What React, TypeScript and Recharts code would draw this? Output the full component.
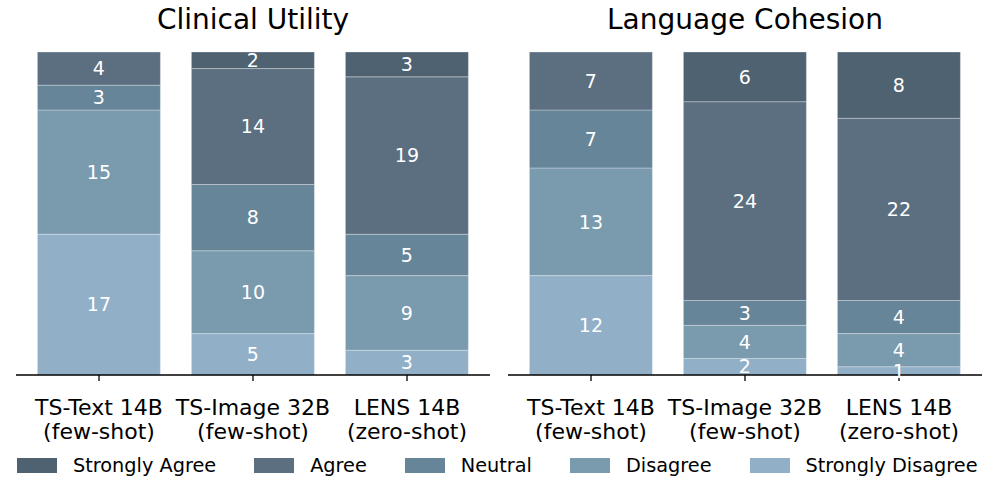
import { Bar, BarChart, LabelList, XAxis, YAxis } from 'recharts';

const models = ['TS-Text 14B|(few-shot)', 'TS-Image 32B|(few-shot)', 'LENS 14B|(zero-shot)'];
const levels = ['Strongly Agree', 'Agree', 'Neutral', 'Disagree', 'Strongly Disagree'];
const colors = ['#4f6272', '#5b6f80', '#668599', '#7a9aae', '#91b0c7'];

// Clinical Utility counts per model
const cuStronglyDisagree = [17, 5, 3];
const cuDisagree = [15, 10, 9];
const cuNeutral = [3, 8, 5];
const cuAgree = [4, 14, 19];
const cuStronglyAgree = [0, 2, 3];

// Language Cohesion counts per model
const lcStronglyDisagree = [12, 2, 1];
const lcDisagree = [13, 4, 4];
const lcNeutral = [7, 3, 4];
const lcAgree = [7, 24, 22];
const lcStronglyAgree = [0, 6, 8];

const buildRows = (sd: number[], d: number[], n: number[], a: number[], sa: number[]) =>
  models.map((m, i) => ({
    model: m,
    'Strongly Disagree': sd[i],
    Disagree: d[i],
    Neutral: n[i],
    Agree: a[i],
    'Strongly Agree': sa[i],
  }));

const clinicalData = buildRows(cuStronglyDisagree, cuDisagree, cuNeutral, cuAgree, cuStronglyAgree);
const cohesionData = buildRows(lcStronglyDisagree, lcDisagree, lcNeutral, lcAgree, lcStronglyAgree);

const font = '"DejaVu Sans", sans-serif';

const ModelTick = (props: any) => {
  const { x, y, payload } = props;
  const [l1, l2] = String(payload.value).split('|');
  return (
    <text x={x} y={y} textAnchor="middle" fontFamily={font} fontSize={22} fill="#000">
      <tspan x={x} dy={32}>{l1}</tspan>
      <tspan x={x} dy={24}>{l2}</tspan>
    </text>
  );
};

// stack from bottom: strongly disagree first
const stackOrder = [4, 3, 2, 1, 0];

const Panel = ({ data, title, left }: { data: any[]; title: string; left: number }) => (
  <div style={{ position: 'absolute', left, top: 0, width: 498, height: 450 }}>
    <div
      style={{
        position: 'absolute',
        left: 16,
        width: 474,
        top: 3,
        textAlign: 'center',
        fontFamily: font,
        fontSize: 28,
        color: '#000',
      }}
    >
      {title}
    </div>
    <BarChart
      width={498}
      height={450}
      data={data}
      margin={{ top: 52, right: 8, bottom: 0, left: 16 }}
      barCategoryGap="10%"
    >
      <XAxis
        dataKey="model"
        height={75}
        padding={{ left: 6, right: 6 }}
        tick={<ModelTick />}
        tickSize={6}
        axisLine={{ stroke: '#000', strokeWidth: 1.3 }}
        tickLine={{ stroke: '#000', strokeWidth: 1.3 }}
        interval={0}
      />
      <YAxis hide domain={[0, 39]} allowDataOverflow />
      {stackOrder.map((i) => (
        <Bar
          key={levels[i]}
          dataKey={levels[i]}
          stackId="s"
          fill={colors[i]}
          stroke="#ffffff"
          strokeWidth={0.3}
          isAnimationActive={false}
        >
          <LabelList
            dataKey={levels[i]}
            position="center"
            fill="#ffffff"
            fontSize={19}
            fontFamily={font}
            formatter={(v: any) => (v ? v : '')}
          />
        </Bar>
      ))}
    </BarChart>
  </div>
);

export default function App() {
  return (
    <div
      style={{
        position: 'absolute',
        left: 0,
        top: 0,
        width: 996,
        height: 494,
        background: '#fff',
        overflow: 'hidden',
      }}
    >
      <Panel data={clinicalData} title="Clinical Utility" left={0} />
      <Panel data={cohesionData} title="Language Cohesion" left={492} />
      <div
        style={{
          position: 'absolute',
          left: 17,
          top: 454,
          display: 'flex',
          alignItems: 'center',
          fontFamily: font,
          fontSize: 19.3,
          color: '#000',
          whiteSpace: 'nowrap',
        }}
      >
        {levels.map((lv, i) => (
          <div key={lv} style={{ display: 'flex', alignItems: 'center', marginRight: 38 }}>
            <div style={{ width: 40, height: 15, background: colors[i], marginRight: 16 }} />
            <span>{lv}</span>
          </div>
        ))}
      </div>
    </div>
  );
}
